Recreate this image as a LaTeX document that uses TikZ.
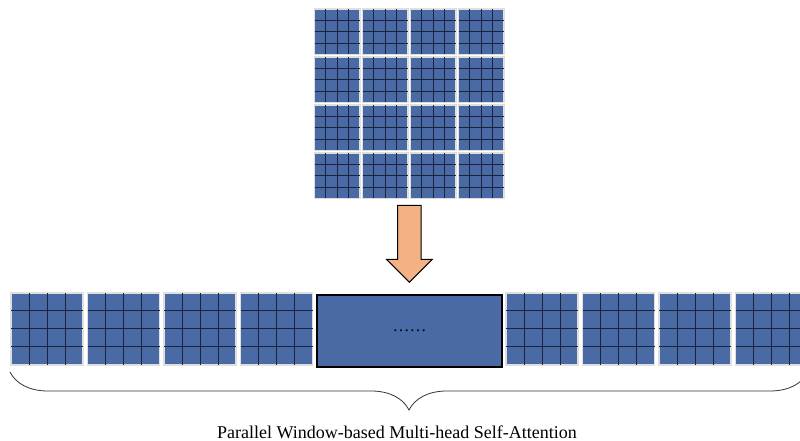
\documentclass[tikz,border=0pt]{standalone}
\usepackage{fontspec}
\setmainfont{Liberation Serif}
\usetikzlibrary{shapes.arrows, decorations.pathreplacing, positioning}
\definecolor{winblue}{RGB}{74,106,166}
\definecolor{celline}{RGB}{27,36,58}
\definecolor{arroworange}{RGB}{244,177,131}

\tikzset{
	win/.style={draw=gray!25, line width=1.2pt, fill=winblue, inner sep=0pt, outer sep=0pt},
	cell/.style={draw=celline, line width=1pt},
	bigwin/.style={draw=black, line width=1.6pt, fill=winblue, inner sep=0pt, minimum width=185pt, minimum height=72pt,
		font=\fontsize{17}{20}\selectfont},
	downarrow/.style={single arrow, draw=black, line width=1pt, fill=arroworange, shape border rotate=270,
		inner sep=11.3pt, minimum width=45pt, minimum height=77pt, single arrow head extend=11pt},
	brace/.style={draw=black!80, line width=0.8pt, decorate, decoration={brace, mirror, amplitude=38pt}}
}
% window node #1 at (#2,#3), side #4, with 4 x 4 cells
\newcommand{\window}[4]{%
	\node[win, minimum size=#4pt] (#1) at (#2, #3) {};
	\foreach \k in {1,2,3}{%
		\draw[cell] ({#2-#4/2+\k*#4/4}, {#3-#4/2}) -- ++(0, #4);
		\draw[cell] ({#2-#4/2}, {#3-#4/2+\k*#4/4}) -- ++(#4, 0);
	}%
}

\begin{document}
\begin{tikzpicture}[x=1pt, y=1pt]
		\useasboundingbox (0,0) rectangle (800,441);
		
		% image split into 16 windows
		\foreach \i in {0,...,3}{
			\foreach \j in {0,...,3}{
				\window{t\i\j}{337.3+48*\i}{409.3-48*\j}{45.5}
			}
		}
		
		\node[downarrow, anchor=tip] (down) at (409.4, 158) {};
		
		% windows side by side
		\foreach \x [count=\n] in {47, 123.5, 200, 276.5, 542, 618.5, 695, 771.5}{
			\window{b\n}{\x}{112}{72}
		}
		\node[bigwin] (mid) at (409.5, 110) {……};
		
		\coordinate (bl) at (10, 69);
		\coordinate (br) at (808, 69);
		\draw[brace] (bl) -- (br);
		\node[font=\fontsize{18}{21}\selectfont] (cap) at (397, 9) {Parallel Window-based Multi-head Self-Attention};
	\end{tikzpicture}
\end{document}
